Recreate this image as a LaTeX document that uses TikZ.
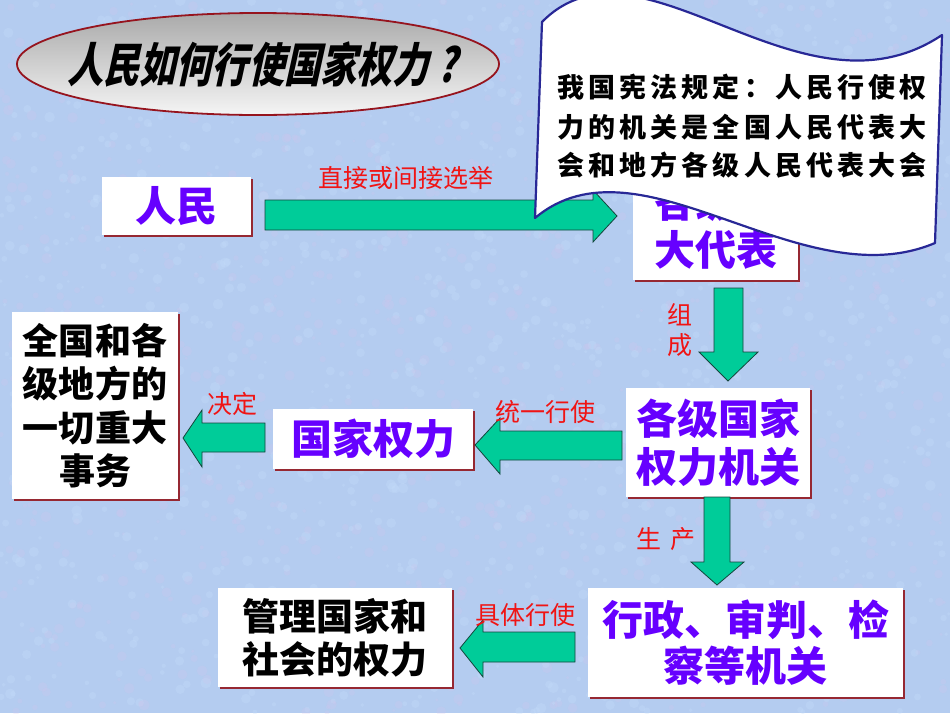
\documentclass[tikz,border=0pt]{standalone}
\usepackage{fontspec}
\setmainfont{Noto Sans CJK SC}
\newfontfamily\titlefont[FakeSlant=0.22,FakeStretch=0.77]{Noto Sans CJK SC}
\newfontfamily\bannerfont[LetterSpace=15]{Noto Sans CJK SC}
\usetikzlibrary{shadows}
\definecolor{bgblue}{RGB}{180,204,240}
\definecolor{texpink}{RGB}{212,196,236}
\definecolor{texlight}{RGB}{198,222,250}
\definecolor{arrowfill}{RGB}{0,204,153}
\definecolor{arrowline}{RGB}{20,70,60}
\definecolor{purp}{RGB}{102,0,255}
\definecolor{boxshadow}{RGB}{150,40,50}
\definecolor{bannerline}{RGB}{40,40,150}
\definecolor{ellline}{RGB}{150,20,30}
\definecolor{labred}{RGB}{240,20,20}
\tikzset{
  box/.style={fill=white, inner sep=0pt, align=center,
    drop shadow={shadow xshift=2pt, shadow yshift=-2pt, fill=boxshadow, opacity=1}},
  ptext/.style={text=purp, font=\bfseries\fontsize{41}{48}\selectfont},
  ktext/.style={text=black, font=\bfseries\fontsize{36}{43.5}\selectfont},
  barrow/.style={fill=arrowfill, draw=arrowline, line width=0.8pt, line join=miter},
  lab/.style={text=labred, inner sep=0pt, font=\fontsize{25}{30}\selectfont, align=center},
  bantext/.style={inner sep=0pt, text=black, font=\bannerfont\bfseries\fontsize{27}{30}\selectfont},
}
\begin{document}
\begin{tikzpicture}[x=1pt,y=-1pt]
\useasboundingbox (0,0) rectangle (950,713);
\fill[bgblue] (0,0) rectangle (950,713);
\pgfmathsetseed{7}
\begin{scope}
\clip (0,0) rectangle (950,713);
\foreach \i in {1,...,1100} {
  \pgfmathsetmacro\xx{rnd*950}
  \pgfmathsetmacro\yy{rnd*713}
  \pgfmathsetmacro\rr{1.5+rnd*4}
  \fill[texpink, opacity=0.22] (\xx,\yy) circle (\rr);
  \pgfmathsetmacro\xa{rnd*950}
  \pgfmathsetmacro\ya{rnd*713}
  \fill[texlight, opacity=0.3] (\xa,\ya) circle (\rr);
}
\end{scope}

% title
\path[top color={rgb,255:red,170;green,170;blue,170}, bottom color={rgb,255:red,245;green,245;blue,245}, draw=ellline, line width=1.8pt]
  (258,64) ellipse [x radius=241, y radius=51];
\node[text=black, inner sep=0pt, font=\titlefont\bfseries\fontsize{47}{47}\selectfont] (title) at (262,64) {人民如何行使国家权力 ?};

% boxes
\node[box, ptext, minimum width=149pt, minimum height=58pt] (renmin) at (176.5,206) {人民};
\node[box, ptext, minimum width=165pt, minimum height=108pt] (rendai) at (715.5,226) {各级人\\大代表};
\node[box, ptext, minimum width=184pt, minimum height=109pt] (jiguan) at (718,442.5) {各级国家\\权力机关};
\node[box, ptext, minimum width=200pt, minimum height=60pt] (quanli) at (373,439) {国家权力};
\node[box, ktext, minimum width=166pt, minimum height=187pt] (shiwu) at (95,405.5) {全国和各\\级地方的\\一切重大\\事务};
\node[box, ptext, font=\bfseries\fontsize{41}{46}\selectfont, minimum width=315pt, minimum height=109pt] (xingzheng) at (745.5,642.5) {行政、审判、检\\察等机关};
\node[box, ktext, font=\bfseries\fontsize{37}{43}\selectfont, minimum width=234pt, minimum height=99pt] (guanli) at (335,637.5) {管理国家和\\社会的权力};

% block arrows
\draw[barrow] (265,200) -- (593,200) -- (593,190) -- (617,216) -- (593,242) -- (593,230) -- (265,230) -- cycle;
\draw[barrow] (714,288) -- (743,288) -- (743,352) -- (758,352) -- (728,381) -- (699,352) -- (714,352) -- cycle;
\draw[barrow] (622,431) -- (500,431) -- (500,418) -- (475,445) -- (500,474) -- (500,460) -- (622,460) -- cycle;
\draw[barrow] (265,423) -- (202,423) -- (202,410) -- (183,438) -- (202,467) -- (202,452) -- (265,452) -- cycle;
\draw[barrow] (704,497) -- (730,497) -- (730,562) -- (744,562) -- (717,585) -- (691,562) -- (704,562) -- cycle;
\draw[barrow] (575,632) -- (483,632) -- (483,620) -- (460,648) -- (483,677) -- (483,662) -- (575,662) -- cycle;

% labels
\node[lab] (l1) at (406,178) {直接或间接选举};
\node[lab] (l2) at (680,330) {组\\成};
\node[lab] (l3) at (545,412) {统一行使};
\node[lab] (l4) at (232,404) {决定};
\node[lab] (l5) at (666,539) {生\hspace{9pt}产};
\node[lab] (l6) at (525,615) {具体行使};

% banner
\draw[bannerline, fill=white, line width=2.2pt, line join=round]
  (542,22) .. controls (640,-78) and (800,130) .. (942,35)
  -- (935,243) .. controls (800,300) and (640,130) .. (535,218) -- cycle;
\foreach \t/\y [count=\k] in {我国宪法规定：人民行使权/87, 力的机关是全国人民代表大/127, 会和地方各级人民代表大会/165} {
  \node[bantext] (b\k) at (742,\y) {\t};
}
\end{tikzpicture}
\end{document}
